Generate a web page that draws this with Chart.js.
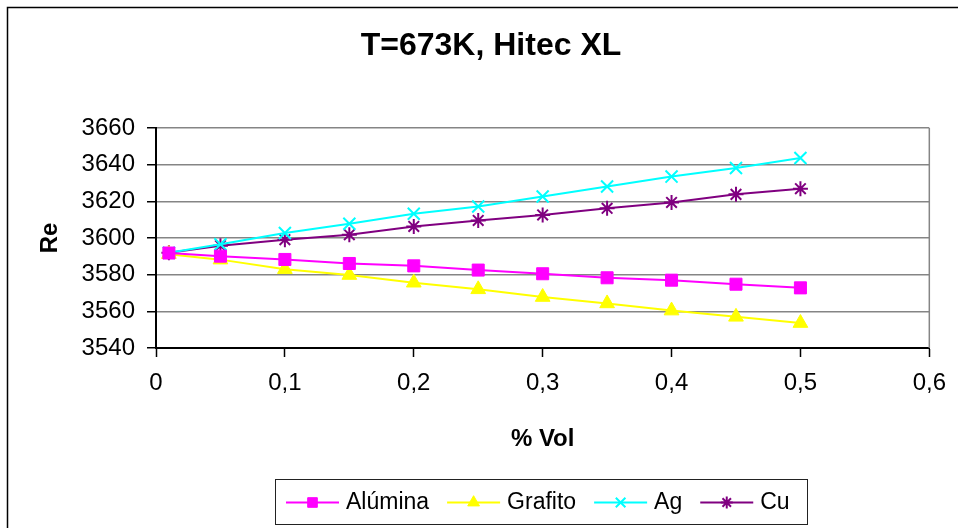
<!DOCTYPE html>
<html>
<head>
<meta charset="utf-8">
<script src="https://cdn.jsdelivr.net/npm/chart.js@4"></script>
<style>
  html, body { margin: 0; padding: 0; background: #fff; }
  #c { display: block; }
</style>
</head>
<body>
<canvas id="c" width="958" height="528"></canvas>
<script>
// Volume fraction of nanoparticles (x) and Reynolds number for each additive
const volFrac = [0.01, 0.05, 0.1, 0.15, 0.2, 0.25, 0.3, 0.35, 0.4, 0.45, 0.5];
const alumina = [3591.8, 3590.1, 3588.3, 3586.1, 3584.8, 3582.5, 3580.5, 3578.3, 3577.0, 3574.8, 3572.8];
const grafito = [3591.2, 3588.2, 3583.0, 3579.8, 3575.6, 3572.0, 3567.8, 3564.3, 3560.4, 3557.0, 3553.6];
const ag      = [3592.0, 3596.6, 3602.7, 3607.8, 3613.2, 3617.2, 3622.6, 3628.1, 3633.5, 3638.2, 3643.6];
const cu      = [3592.0, 3595.8, 3599.1, 3601.8, 3606.3, 3609.6, 3612.6, 3616.2, 3619.4, 3623.8, 3626.9];
const seriesNames = ['Alúmina', 'Grafito', 'Ag', 'Cu'];

const chartTitle = 'T=673K, Hitec XL';
const xTitle = '% Vol';
const yTitle = 'Re';

const FONT = '"Liberation Sans", Arial, Helvetica, sans-serif';

function toPoints(ys) {
  return volFrac.map((x, i) => ({ x: x, y: ys[i] }));
}

function commaDecimal(v) {
  if (Math.abs(v) < 1e-9) return '0';
  return (Math.round(v * 10) / 10).toFixed(1).replace('.', ',');
}

// white background, outer frame, chart title and right edge of the plot area
const framePlugin = {
  id: 'frame',
  beforeDraw(chart) {
    const ctx = chart.ctx;
    ctx.save();
    ctx.fillStyle = '#fff';
    ctx.fillRect(0, 0, chart.width, chart.height);
    ctx.strokeStyle = '#000';
    ctx.lineWidth = 1.5;
    ctx.strokeRect(7.5, 7.5, chart.width + 20, chart.height + 20);
    ctx.fillStyle = '#000';
    ctx.font = 'bold 32px ' + FONT;
    ctx.textAlign = 'center';
    ctx.textBaseline = 'middle';
    ctx.fillText(chartTitle, 491, 46);
    ctx.restore();
  },
  beforeDatasetsDraw(chart) {
    const { ctx, chartArea } = chart;
    ctx.save();
    ctx.strokeStyle = '#858585';
    ctx.lineWidth = 1.5;
    ctx.beginPath();
    ctx.moveTo(chartArea.right, chartArea.top);
    ctx.lineTo(chartArea.right, chartArea.bottom);
    ctx.stroke();
    ctx.restore();
  }
};

// boxed legend below the axis title: line sample with marker, then the label
const boxLegendPlugin = {
  id: 'boxLegend',
  afterDraw(chart) {
    const ctx = chart.ctx;
    const box = { x: 275, y: 479, w: 532, h: 45 };
    ctx.save();
    ctx.strokeStyle = '#222';
    ctx.lineWidth = 1;
    ctx.strokeRect(box.x + 0.5, box.y + 0.5, box.w, box.h);
    ctx.font = '23px ' + FONT;
    ctx.textBaseline = 'middle';
    const cy = box.y + box.h / 2 + 1;
    let x = box.x + 11;
    chart.data.datasets.forEach(ds => {
      ctx.strokeStyle = ds.borderColor;
      ctx.lineWidth = 2;
      ctx.beginPath();
      ctx.moveTo(x, cy);
      ctx.lineTo(x + 53, cy);
      ctx.stroke();
      ctx.fillStyle = ds.pointBackgroundColor;
      ctx.strokeStyle = ds.pointBorderColor;
      ctx.lineWidth = ds.pointBorderWidth;
      Chart.helpers.drawPoint(ctx, {
        pointStyle: ds.pointStyle,
        radius: ds.pointRadius * 0.8,
        borderWidth: ds.pointBorderWidth,
        rotation: 0
      }, x + 26.5, cy);
      x += 53 + 7;
      ctx.fillStyle = '#000';
      ctx.fillText(ds.label, x, cy);
      x += ctx.measureText(ds.label).width + 18;
    });
    ctx.restore();
  }
};

function series(label, ys, color, style, radius, filled) {
  return {
    label: label,
    data: toPoints(ys),
    borderColor: color,
    backgroundColor: color,
    borderWidth: 2,
    pointStyle: style,
    pointRadius: radius,
    pointHoverRadius: radius,
    pointBackgroundColor: filled ? color : 'rgba(0,0,0,0)',
    pointBorderColor: color,
    pointBorderWidth: filled ? 1 : 2,
    tension: 0,
    fill: false
  };
}

new Chart(document.getElementById('c'), {
  type: 'line',
  data: {
    datasets: [
      series(seriesNames[0], alumina, '#FF00FF', 'rect', 8.5, true),
      series(seriesNames[1], grafito, '#FFFF00', 'triangle', 8.5, true),
      series(seriesNames[2], ag, '#00FFFF', 'crossRot', 8.5, false),
      series(seriesNames[3], cu, '#800080', 'star', 7.5, false)
    ]
  },
  options: {
    responsive: false,
    animation: false,
    devicePixelRatio: 1,
    layout: { padding: { left: 28, right: 28, top: 128, bottom: 68 } },
    plugins: {
      legend: { display: false },
      tooltip: { enabled: false },
      title: { display: false }
    },
    scales: {
      x: {
        type: 'linear',
        min: 0,
        max: 0.6,
        ticks: {
          stepSize: 0.1,
          color: '#000',
          font: { family: FONT, size: 24 },
          padding: 12,
          maxRotation: 0,
          callback: v => commaDecimal(v)
        },
        grid: { drawOnChartArea: false, drawTicks: true, tickLength: 9, tickColor: '#000', tickWidth: 1.5 },
        border: { color: '#000', width: 2 },
        title: {
          display: true,
          text: xTitle,
          color: '#000',
          font: { family: FONT, size: 24, weight: 'bold' },
          padding: { top: 6, bottom: 6 }
        },
        afterFit(scale) { scale.height = 112; }
      },
      y: {
        min: 3540,
        max: 3660,
        ticks: {
          stepSize: 20,
          color: '#000',
          font: { family: FONT, size: 24 },
          padding: 12,
          callback: v => String(Math.round(v))
        },
        grid: { color: '#858585', lineWidth: 1.5, tickColor: '#000', tickLength: 9, tickWidth: 1.5 },
        border: { color: '#000', width: 2 },
        title: {
          display: true,
          text: yTitle,
          color: '#000',
          font: { family: FONT, size: 24, weight: 'bold' },
          padding: { top: 8, bottom: 6 }
        },
        afterFit(scale) { scale.width = 128; }
      }
    }
  },
  plugins: [framePlugin, boxLegendPlugin]
});
</script>
</body>
</html>
